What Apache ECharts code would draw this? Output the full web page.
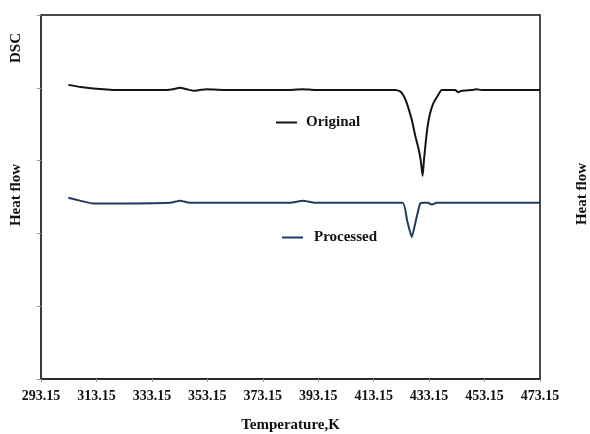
<!DOCTYPE html>
<html>
<head>
<meta charset="utf-8">
<script src="https://cdn.jsdelivr.net/npm/echarts@6/dist/echarts.min.js"></script>
<style>
  html, body { margin: 0; padding: 0; background: #fff; }
  #chart { width: 590px; height: 434px; }
</style>
</head>
<body>
<div id="chart"></div>
<script>
// DSC heat-flow traces, temperature in K
const originalTemp = [303.0, 307.5, 312.0, 316.0, 320.5, 330.0, 338.5, 340.8, 343.3, 345.8, 348.1, 350.5, 352.9, 358.8,
  370.0, 383.0, 387.5, 392.0, 405.0, 415.0, 420.9, 422.7, 423.8, 425.1, 426.9, 428.1, 429.3, 430.1, 430.8,
  431.3, 431.9, 432.6, 433.5, 434.7, 436.1, 437.7, 442.5, 443.7, 444.9, 448.5, 450.3, 452.1, 460.0, 473.15];
const originalHeat = [4.04, 4.01, 3.99, 3.98, 3.97, 3.97, 3.97, 3.98, 4.00, 3.98, 3.96, 3.97, 3.98, 3.97,
  3.97, 3.97, 3.98, 3.97, 3.97, 3.97, 3.97, 3.95, 3.90, 3.79, 3.56, 3.35, 3.17, 3.01, 2.79,
  3.01, 3.24, 3.47, 3.65, 3.79, 3.88, 3.97, 3.97, 3.94, 3.96, 3.97, 3.98, 3.97, 3.97, 3.97];

const processedTemp = [303.0, 307.2, 312.0, 318.0, 339.7, 343.3, 346.9, 382.9, 387.8, 392.0, 423.6, 425.2, 426.9,
  428.4, 429.9, 431.3, 432.9, 433.8, 434.7, 435.6, 436.5, 473.15];
const processedHeat = [2.49, 2.45, 2.41, 2.41, 2.42, 2.45, 2.42, 2.42, 2.45, 2.42, 2.42, 2.18, 1.95,
  2.18, 2.41, 2.42, 2.42, 2.40, 2.40, 2.42, 2.42, 2.42];

// temperature axis ticks
const tempStart = 293.15;
const tempLabels = ['293.15', '313.15', '333.15', '353.15', '373.15', '393.15', '413.15', '433.15', '453.15', '473.15'];
const tempStep = 20;

const seriesNames = ['Original', 'Processed'];
const seriesColors = ['#141414', '#213a63'];

// the x axis runs on (T - 293.15) so ticks land on the .15 values
const toPairs = (ts, vs) => ts.map((t, i) => [+(t - tempStart).toFixed(3), vs[i]]);

const serif = '"Liberation Serif", "Times New Roman", serif';
const chart = echarts.init(document.getElementById('chart'));

chart.setOption({
  animation: false,
  grid: {
    left: 41, right: 50, top: 15, bottom: 55,
    outerBoundsMode: 'none', containLabel: false,
    show: true, borderColor: '#111', borderWidth: 1.5, backgroundColor: 'transparent'
  },
  xAxis: {
    type: 'value',
    min: 0,
    max: (tempLabels.length - 1) * tempStep,
    interval: tempStep,
    name: 'Temperature,K',
    nameLocation: 'middle',
    nameGap: 39,
    nameTextStyle: { fontFamily: serif, fontWeight: 'bold', fontSize: 15, color: '#111' },
    axisLine: { lineStyle: { color: '#222', width: 1.5 } },
    axisTick: { show: true, length: 3, lineStyle: { color: '#999' } },
    axisLabel: {
      fontFamily: serif, fontWeight: 'bold', fontSize: 14, color: '#111', margin: 10,
      formatter: v => tempLabels[Math.round(v / tempStep)] || ''
    },
    splitLine: { show: false }
  },
  yAxis: {
    type: 'value',
    min: 0,
    max: 5,
    interval: 1,
    axisLine: { show: true, lineStyle: { color: '#333', width: 1.5 } },
    axisTick: { show: true, length: 4, lineStyle: { color: '#999' } },
    axisLabel: { show: false },
    splitLine: { show: false }
  },
  legend: [
    {
      data: [seriesNames[0]], left: 276, top: 115, padding: 0,
      icon: 'rect', itemWidth: 21, itemHeight: 2, itemGap: 0,
      textStyle: { fontFamily: serif, fontWeight: 'bold', fontSize: 15, color: '#111', padding: [0, 0, 0, 4] }
    },
    {
      data: [seriesNames[1]], left: 282, top: 230, padding: 0,
      icon: 'rect', itemWidth: 21, itemHeight: 2, itemGap: 0,
      textStyle: { fontFamily: serif, fontWeight: 'bold', fontSize: 15, color: '#111', padding: [0, 0, 0, 6] }
    }
  ],
  graphic: [
    { type: 'text', left: 9, top: 33, rotation: Math.PI / 2,
      style: { text: 'DSC', fontFamily: serif, fontWeight: 'bold', fontSize: 15, fill: '#111' } },
    { type: 'text', left: 9, top: 164, rotation: Math.PI / 2,
      style: { text: 'Heat flow', fontFamily: serif, fontWeight: 'bold', fontSize: 15, fill: '#111' } },
    { type: 'text', left: 575, top: 163, rotation: Math.PI / 2,
      style: { text: 'Heat flow', fontFamily: serif, fontWeight: 'bold', fontSize: 15, fill: '#111' } }
  ],
  series: [
    {
      name: seriesNames[0], type: 'line', data: toPairs(originalTemp, originalHeat),
      showSymbol: false, smooth: 0.15, color: seriesColors[0],
      lineStyle: { color: seriesColors[0], width: 2 }
    },
    {
      name: seriesNames[1], type: 'line', data: toPairs(processedTemp, processedHeat),
      showSymbol: false, smooth: 0.15, color: seriesColors[1],
      lineStyle: { color: seriesColors[1], width: 2 }
    }
  ]
});
</script>
</body>
</html>
